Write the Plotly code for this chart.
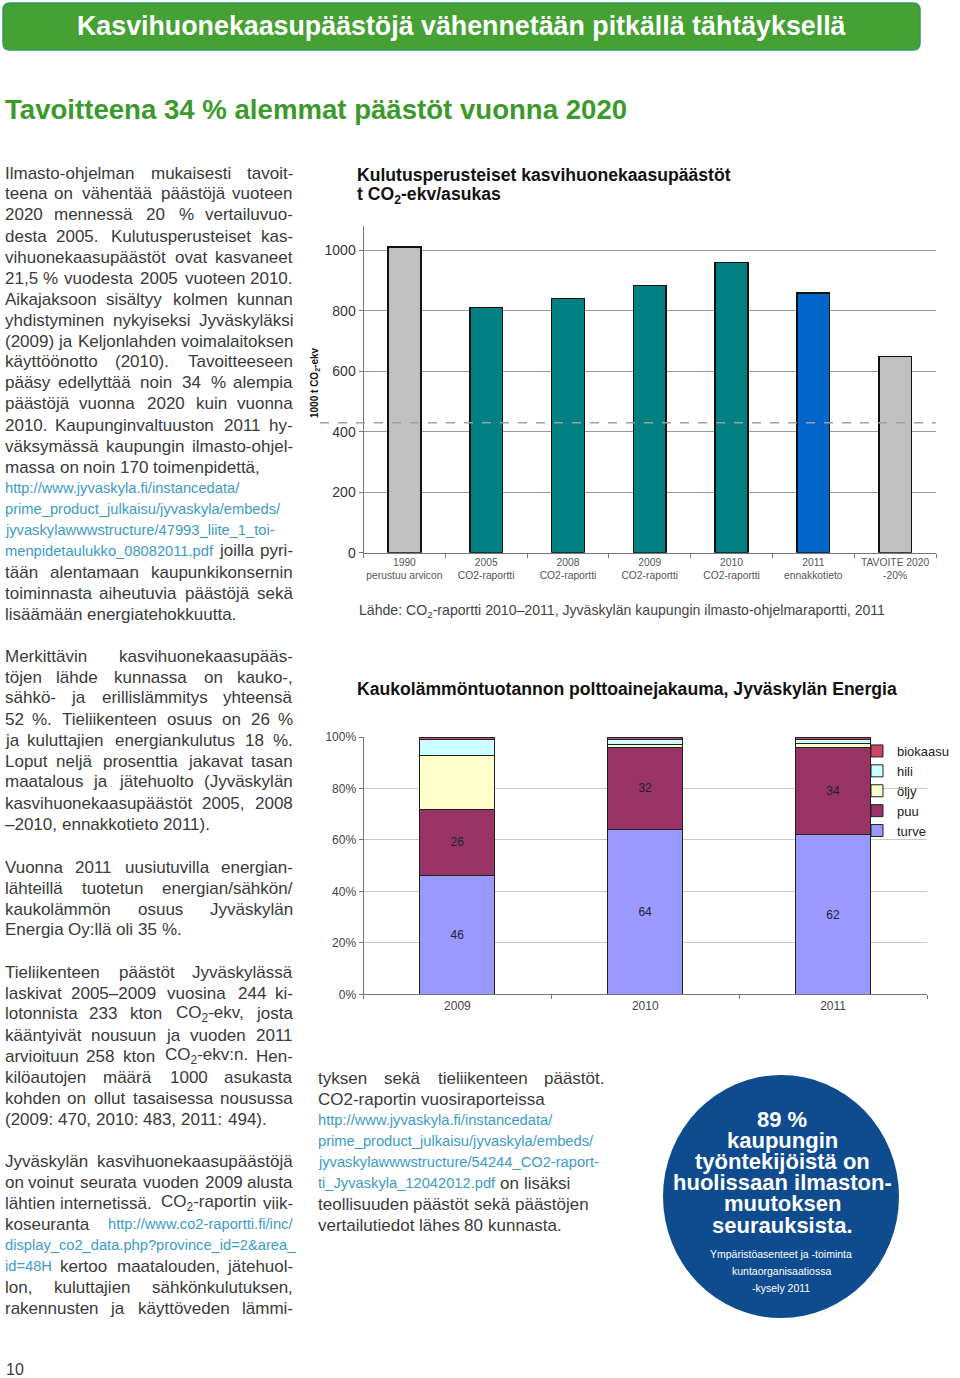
import plotly.graph_objects as go

W, H = 960, 1378

# --- chart 1: kulutusperusteiset päästöt (1000 t CO2-ekv) ---
c1_labels = ["1990<br>perustuu arvicon", "2005<br>CO2-raportti", "2008<br>CO2-raportti",
             "2009<br>CO2-raportti", "2010<br>CO2-raportti", "2011<br>ennakkotieto",
             "TAVOITE 2020<br>-20%"]
c1_values = [1010, 810, 840, 884, 959, 859, 648]
c1_colors = ["#c0c0c0", "#008080", "#008080", "#008080", "#008080", "#0066cc", "#c0c0c0"]
c1_dashed = 430

# --- chart 2: kaukolämmön polttoainejakauma (%) ---
c2_years = ["2009", "2010", "2011"]
turve = [46, 64, 62]
puu = [26, 32, 34]
oljy = [21, 1, 1.5]
hili = [6, 2, 1.5]
biokaasu = [1, 1, 1]

# --- body text (lines as typeset; "@" marks a link token, True = justified) ---
col1 = [
    (173, [
        ("Ilmasto-ohjelman mukaisesti tavoit-", True),
        ("teena on vähentää päästöjä vuoteen", True),
        ("2020 mennessä 20 % vertailuvuo-", True),
        ("desta 2005. Kulutusperusteiset kas-", True),
        ("vihuonekaasupäästöt ovat kasvaneet", True),
        ("21,5 % vuodesta 2005 vuoteen 2010.", True),
        ("Aikajaksoon sisältyy kolmen kunnan", True),
        ("yhdistyminen nykyiseksi Jyväskyläksi", True),
        ("(2009) ja Keljonlahden voimalaitoksen", True),
        ("käyttöönotto (2010). Tavoitteeseen", True),
        ("pääsy edellyttää noin 34 % alempia", True),
        ("päästöjä vuonna 2020 kuin vuonna", True),
        ("2010. Kaupunginvaltuuston 2011 hy-", True),
        ("väksymässä kaupungin ilmasto-ohjel-", True),
        ("massa on noin 170 toimenpidettä,", False),
        ("@http://www.jyvaskyla.fi/instancedata/", False),
        ("@prime_product_julkaisu/jyvaskyla/embeds/", False),
        ("@jyvaskylawwwstructure/47993_liite_1_toi-", False),
        ("@menpidetaulukko_08082011.pdf joilla pyri-", True),
        ("tään alentamaan kaupunkikonsernin", True),
        ("toiminnasta aiheutuvia päästöjä sekä", True),
        ("lisäämään energiatehokkuutta.", False),
    ]),
    (656, [
        ("Merkittävin kasvihuonekaasupääs-", True),
        ("töjen lähde kunnassa on kauko-,", True),
        ("sähkö- ja erillislämmitys yhteensä", True),
        ("52 %. Tieliikenteen osuus on 26 %", True),
        ("ja kuluttajien energiankulutus 18 %.", True),
        ("Loput neljä prosenttia jakavat tasan", True),
        ("maatalous ja jätehuolto (Jyväskylän", True),
        ("kasvihuonekaasupäästöt 2005, 2008", True),
        ("–2010, ennakkotieto 2011).", False),
    ]),
    (867, [
        ("Vuonna 2011 uusiutuvilla energian-", True),
        ("lähteillä tuotetun energian/sähkön/", True),
        ("kaukolämmön osuus Jyväskylän", True),
        ("Energia Oy:llä oli 35 %.", False),
    ]),
    (972, [
        ("Tieliikenteen päästöt Jyväskylässä", True),
        ("laskivat 2005–2009 vuosina 244 ki-", True),
        ("lotonnista 233 kton CO<sub>2</sub>-ekv, josta", True),
        ("kääntyivät nousuun ja vuoden 2011", True),
        ("arvioituun 258 kton CO<sub>2</sub>-ekv:n. Hen-", True),
        ("kilöautojen määrä 1000 asukasta", True),
        ("kohden on ollut tasaisessa nousussa", True),
        ("(2009: 470, 2010: 483, 2011: 494).", False),
    ]),
    (1161, [
        ("Jyväskylän kasvihuonekaasupäästöjä", True),
        ("on voinut seurata vuoden 2009 alusta", True),
        ("lähtien internetissä. CO<sub>2</sub>-raportin viik-", True),
        ("koseuranta @http://www.co2-raportti.fi/inc/", True),
        ("@display_co2_data.php?province_id=2&area_", False),
        ("@id=48H kertoo maatalouden, jätehuol-", True),
        ("lon, kuluttajien sähkönkulutuksen,", True),
        ("rakennusten ja käyttöveden lämmi-", True),
    ]),
]
col2 = [
    (1078, [
        ("tyksen sekä tieliikenteen päästöt.", True),
        ("CO2-raportin vuosiraporteissa", False),
        ("@http://www.jyvaskyla.fi/instancedata/", False),
        ("@prime_product_julkaisu/jyvaskyla/embeds/", False),
        ("@jyvaskylawwwstructure/54244_CO2-raport-", False),
        ("@ti_Jyvaskyla_12042012.pdf on lisäksi", False),
        ("teollisuuden päästöt sekä päästöjen", False),
        ("vertailutiedot lähes 80 kunnasta.", False),
    ]),
]

bubble_big = ["89 %", "kaupungin", "työntekijöistä on", "huolissaan ilmaston-",
              "muutoksen", "seurauksista."]
bubble_small = ["Ympäristöasenteet ja -toiminta", "kuntaorganisaatiossa", "-kysely 2011"]

BODY = "Liberation Sans, Arial, sans-serif"
TXT = "#3a3a3a"
LINK = "#3b9cc6"
BODY_SIZE = 17
LINK_SIZE = 14.7


def px(x):
    return x / W


def py(y):
    return 1 - y / H


# rough Arial metrics, used only to space words of justified lines
_w = {}
for chars, v in [("ijl", 222), (" ,.:;/!tfI[]", 278), ("r-()", 333), ("ckszvxyJ", 500),
                 ("%", 889), ("mM", 833), ("w", 722), ("W", 944), ("ABEKPSVXYÄ", 667),
                 ("CDHNRU", 722), ("GOQÖ", 778), ("FTZ", 611), ("L", 556), ("=+<>", 584),
                 ("&", 667)]:
    for ch in chars:
        _w[ch] = v


def width(s, size):
    s = s.replace("<sub>", "").replace("</sub>", "")
    return sum(_w.get(ch, 556) for ch in s) * size / 1000


ann = []


def txt(x, y, s, size, color, xanchor="left", angle=0):
    ann.append(dict(x=px(x), y=py(y), xref="paper", yref="paper", text=s, showarrow=False,
                    xanchor=xanchor, yanchor="middle", textangle=angle,
                    font=dict(size=size, color=color, family=BODY)))


def word(x, y, w, xanchor):
    link = w.startswith("@")
    s = w[1:] if link else w
    s = s.replace("&", "&amp;")
    txt(x, y, s, LINK_SIZE if link else BODY_SIZE, LINK if link else TXT, xanchor)


def tok_w(w):
    if w.startswith("@"):
        return width(w[1:], LINK_SIZE)
    return width(w, BODY_SIZE)


def set_column(blocks, x0, x1):
    for y0, lines in blocks:
        for i, (line, just) in enumerate(lines):
            y = y0 + 21 * i
            words = line.split(" ")
            if just and len(words) > 1:
                ws = [tok_w(w) for w in words]
                gap = (x1 - x0 - sum(ws)) / (len(words) - 1)
                pos = x0
                for k, w in enumerate(words):
                    if k == 0:
                        word(x0, y, w, "left")
                    elif k == len(words) - 1:
                        word(x1, y, w, "right")
                    else:
                        word(pos + ws[k] / 2, y, w, "center")
                    pos += ws[k] + gap
            else:
                pos = x0
                sp = width(" ", BODY_SIZE)
                for w in words:
                    word(pos, y, w, "left")
                    pos += tok_w(w) + sp


set_column(col1, 3, 295)
set_column(col2, 316, 607)

# headings
txt(461, 26, "<b>Kasvihuonekaasupäästöjä vähennetään pitkällä tähtäyksellä</b>", 26.8, "white",
    xanchor="center")
txt(3, 109, "<b>Tavoitteena 34 % alemmat päästöt vuonna 2020</b>", 27.6, "#3c9a2c")
txt(4, 1369, "10", 16, TXT)

# chart titles and notes
txt(355, 175, "<b>Kulutusperusteiset kasvihuonekaasupäästöt</b>", 17.6, "#111")
txt(355, 196, "<b>t CO<sub>2</sub>-ekv/asukas</b>", 17.6, "#111")
txt(315, 383, "<b>1000 t CO<sub>2</sub>-ekv</b>", 10, "#111", xanchor="center", angle=-90)
txt(357, 611, "Lähde: CO<sub>2</sub>-raportti 2010–2011, Jyväskylän kaupungin ilmasto-ohjelmaraportti, 2011",
    14.1, "#444")
txt(355, 689, "<b>Kaukolämmöntuotannon polttoainejakauma, Jyväskylän Energia</b>", 17.6, "#111")

# bubble text
for i, s in enumerate(bubble_big):
    txt(782, 1119 + 21.2 * i, "<b>" + s + "</b>", 22, "white", xanchor="center")
for i, s in enumerate(bubble_small):
    txt(781, 1254 + 17 * i, s, 10.5, "white", xanchor="center")


def rounded(x0, y0, x1, y1, r):
    pts = [
        ("M", [(x0 + r, y0)]), ("L", [(x1 - r, y0)]), ("Q", [(x1, y0), (x1, y0 + r)]),
        ("L", [(x1, y1 - r)]), ("Q", [(x1, y1), (x1 - r, y1)]), ("L", [(x0 + r, y1)]),
        ("Q", [(x0, y1), (x0, y1 - r)]), ("L", [(x0, y0 + r)]), ("Q", [(x0, y0), (x0 + r, y0)]),
    ]
    out = ""
    for cmd, ps in pts:
        out += cmd + " ".join(f"{px(a):.5f},{py(b):.5f}" for a, b in ps) + " "
    return out + "Z"


shapes = [
    dict(type="path", xref="paper", yref="paper", path=rounded(3, 3, 920, 50, 7),
         fillcolor="#45a133", line=dict(color="#2f9a62", width=1.5), layer="below"),
    dict(type="circle", xref="paper", yref="paper", x0=px(663), x1=px(899),
         y0=py(1318), y1=py(1075), fillcolor="#0f4c8f", line=dict(width=0), layer="below"),
    dict(type="line", xref="paper", yref="y", x0=px(320), x1=px(936), y0=c1_dashed, y1=c1_dashed,
         line=dict(color="#a0a0a0", width=1.5, dash="dash"), layer="above"),
]

fig = go.Figure()

fig.add_trace(go.Bar(x=c1_labels, y=c1_values, marker_color=c1_colors,
                     marker_line=dict(color="#111", width=1.5), showlegend=False,
                     xaxis="x", yaxis="y", hoverinfo="skip"))

c2_series = [("turve", turve, "#9999ff", True), ("puu", puu, "#993366", True),
             ("öljy", oljy, "#ffffcc", False), ("hili", hili, "#ccffff", False),
             ("biokaasu", biokaasu, "#cc4466", False)]
for name, vals, col, lab in c2_series:
    fig.add_trace(go.Bar(x=c2_years, y=vals, name=name, marker_color=col,
                         marker_line=dict(color="#222", width=1),
                         text=[f"{v:g}" for v in vals] if lab else None,
                         textposition="inside" if lab else "none",
                         insidetextanchor="middle",
                         textfont=dict(size=12, color="#222236", family=BODY),
                         xaxis="x2", yaxis="y2", hoverinfo="skip"))

fig.update_layout(
    width=W, height=H, margin=dict(l=0, r=0, t=0, b=0, pad=0), autosize=False,
    paper_bgcolor="white", plot_bgcolor="white",
    barmode="stack", bargap=0.6,
    font=dict(family=BODY, color="#333"),
    annotations=ann, shapes=shapes,
    xaxis=dict(domain=[px(363.5), px(936)], anchor="y", showline=True, linecolor="#777",
               ticks="outside", tickson="boundaries", ticklen=4, tickcolor="#777", tickangle=0,
               tickfont=dict(size=10.3, color="#555", family=BODY), showgrid=False,
               automargin=False),
    yaxis=dict(domain=[py(552.7), py(226)], anchor="x", range=[0, 1080],
               tickvals=[0, 200, 400, 600, 800, 1000], showline=True, linecolor="#777",
               ticks="outside", ticklen=4, tickcolor="#777", gridcolor="#9a9a9a", gridwidth=1.2,
               tickfont=dict(size=14, color="#333", family=BODY), zeroline=False,
               automargin=False),
    xaxis2=dict(domain=[px(363.5), px(927)], anchor="y2", showline=True, linecolor="#777",
                ticks="outside", tickson="boundaries", ticklen=4, tickcolor="#777", tickangle=0,
                tickfont=dict(size=12, color="#444", family=BODY), showgrid=False,
                automargin=False),
    yaxis2=dict(domain=[py(994.3), py(737)], anchor="x2", range=[0, 100],
                tickvals=[0, 20, 40, 60, 80, 100], ticktext=["0%", "20%", "40%", "60%", "80%", "100%"],
                showline=True, linecolor="#777", ticks="outside", ticklen=4, tickcolor="#777",
                gridcolor="#c8c8c8", gridwidth=1, zeroline=False,
                tickfont=dict(size=12, color="#444", family=BODY), automargin=False),
    legend=dict(x=px(857), y=py(736), xanchor="left", yanchor="top", traceorder="reversed",
                font=dict(size=13, color="#222", family=BODY), bgcolor="rgba(0,0,0,0)",
                tracegroupgap=0),
)

fig.write_html("out.html", config={"displayModeBar": False},
               post_script="document.body.style.margin='0';document.body.style.overflow='hidden';")
